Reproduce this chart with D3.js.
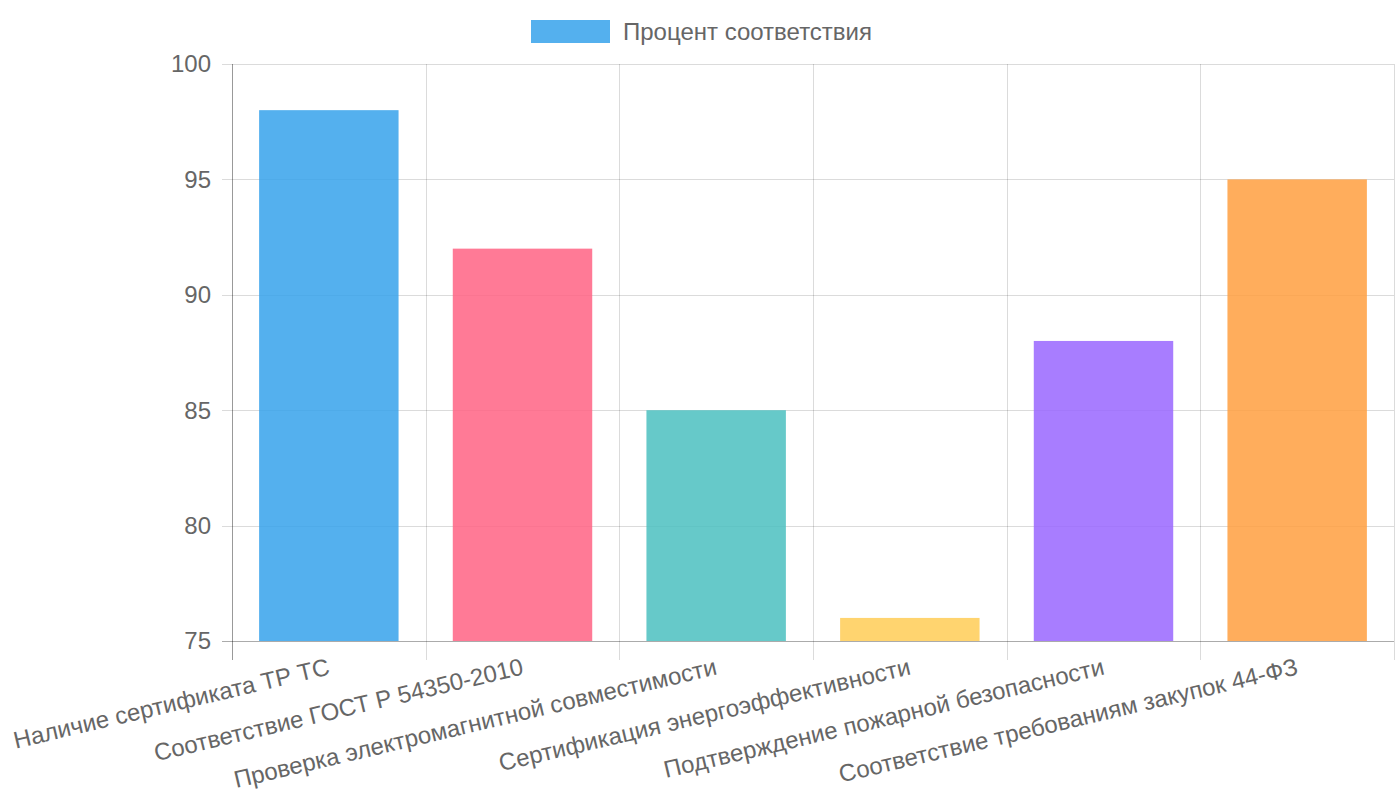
<!DOCTYPE html>
<html>
<head>
<meta charset="utf-8">
<script src="https://cdn.jsdelivr.net/npm/d3@7"></script>
<style>
  body { margin: 0; background: #fff; }
  svg text { font-family: "Liberation Sans", Arial, sans-serif; fill: #666; }
</style>
</head>
<body>
<svg id="chart" width="1400" height="800"></svg>
<script>
const categories = [
  'Наличие сертификата ТР ТС',
  'Соответствие ГОСТ Р 54350-2010',
  'Проверка электромагнитной совместимости',
  'Сертификация энергоэффективности',
  'Подтверждение пожарной безопасности',
  'Соответствие требованиям закупок 44-ФЗ'
];
const values = [98, 92, 85, 76, 88, 95];
const barColors = [
  'rgba(54, 162, 235, 0.85)',
  'rgba(255, 99, 132, 0.85)',
  'rgba(75, 192, 192, 0.85)',
  'rgba(255, 205, 86, 0.85)',
  'rgba(153, 102, 255, 0.85)',
  'rgba(255, 159, 64, 0.85)'
];
const yTicks = [75, 80, 85, 90, 95, 100];
const seriesName = 'Процент соответствия';

const margin = {top: 64, left: 232, right: 6, bottom: 159};
const width = 1400, height = 800;

let svg = d3.select('#chart');

let x = d3.scaleBand().domain(categories).range([margin.left, width - margin.right]);
let y = d3.scaleLinear().domain([75, 100]).range([height - margin.bottom, margin.top]);

const grid = 'rgba(0,0,0,0.14)';

// horizontal grid + tick marks
svg.append('g')
  .selectAll('line')
  .data(yTicks)
  .join('line')
    .attr('x1', margin.left - 10)
    .attr('x2', width - margin.right)
    .attr('y1', d => Math.round(y(d)) + 0.5)
    .attr('y2', d => Math.round(y(d)) + 0.5)
    .attr('stroke', grid);

// vertical grid (category boundaries) + tick marks
let bounds = categories.map(c => x(c)).concat([x.range()[1]]);
svg.append('g')
  .selectAll('line')
  .data(bounds)
  .join('line')
    .attr('x1', d => Math.round(d) + 0.5)
    .attr('x2', d => Math.round(d) + 0.5)
    .attr('y1', margin.top)
    .attr('y2', height - margin.bottom + 19)
    .attr('stroke', grid);

// axis lines
svg.append('line')
  .attr('x1', margin.left + 0.5).attr('x2', margin.left + 0.5)
  .attr('y1', margin.top).attr('y2', height - margin.bottom + 19)
  .attr('stroke', 'rgba(0,0,0,0.3)');
svg.append('line')
  .attr('x1', margin.left - 10).attr('x2', width - margin.right)
  .attr('y1', Math.round(y(75)) + 0.5).attr('y2', Math.round(y(75)) + 0.5)
  .attr('stroke', 'rgba(0,0,0,0.22)');

// bars
const inner = 0.72;
svg.append('g')
  .selectAll('rect')
  .data(values)
  .join('rect')
    .attr('x', (d, i) => x(categories[i]) + x.bandwidth() * (1 - inner) / 2)
    .attr('width', x.bandwidth() * inner)
    .attr('y', d => y(d))
    .attr('height', d => y(75) - y(d))
    .attr('fill', (d, i) => barColors[i]);

// y tick labels
svg.append('g')
  .selectAll('text')
  .data(yTicks)
  .join('text')
    .attr('x', margin.left - 21)
    .attr('y', d => y(d))
    .attr('dy', '0.35em')
    .attr('text-anchor', 'end')
    .style('font-size', '24px')
    .text(d => d);

// x tick labels (rotated)
svg.append('g')
  .selectAll('text')
  .data(categories)
  .join('text')
    .attr('transform', d => 'translate(' + (x(d) + x.bandwidth() / 2) + ',' + 666 + ') rotate(-13.3)')
    .attr('dy', '0.35em')
    .attr('text-anchor', 'end')
    .style('font-size', '24px')
    .text(d => d);

// legend
let legend = svg.append('g');
legend.append('rect')
  .attr('x', 531).attr('y', 20).attr('width', 79).attr('height', 23)
  .attr('fill', barColors[0]);
legend.append('text')
  .attr('x', 623).attr('y', 32).attr('dy', '0.35em')
  .style('font-size', '24px')
  .text(seriesName);
</script>
</body>
</html>
